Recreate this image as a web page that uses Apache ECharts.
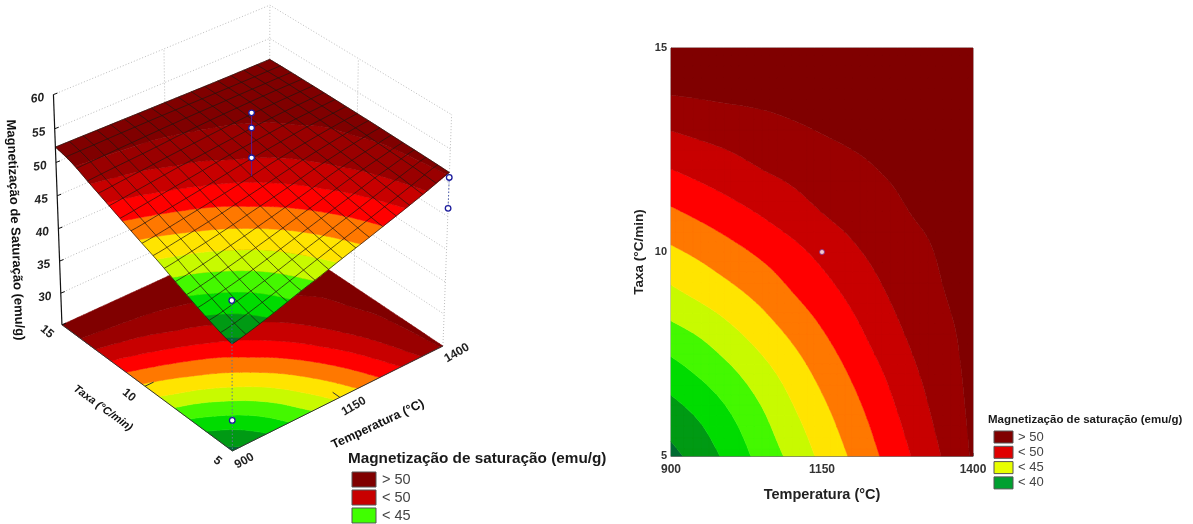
<!DOCTYPE html>
<html>
<head>
<meta charset="utf-8">
<style>html,body{margin:0;padding:0;background:#fff}#c{width:1193px;height:524px;filter:blur(0.4px)}</style>
<script src="https://cdn.jsdelivr.net/npm/echarts@6/dist/echarts.min.js"></script>
</head>
<body>
<div id="c"></div>
<script>
// ---- data ----
const temperatures = [900,950,1000,1050,1100,1150,1200,1250,1300,1350,1400];
const rates = [5,6,7,8,9,10,11,12,13,14,15];
const magRate5  = [41.20,42.00,43.00,44.09,45.08,46.15,47.15,48.20,49.26,50.37,51.54];
const magRate6  = [42.08,42.78,43.68,44.65,45.69,46.67,47.65,48.65,49.68,50.69,51.62];
const magRate7  = [43.18,43.84,44.58,45.44,46.36,47.30,48.22,49.15,50.10,50.92,51.68];
const magRate8  = [44.40,44.94,45.65,46.40,47.19,48.01,48.84,49.73,50.50,51.13,51.73];
const magRate9  = [45.68,46.20,46.74,47.35,48.07,48.75,49.48,50.22,50.83,51.37,51.79];
const magRate10 = [46.80,47.25,47.77,48.30,48.87,49.50,50.12,50.65,51.11,51.51,51.82];
const magRate11 = [47.96,48.40,48.86,49.33,49.84,50.33,50.71,51.08,51.44,51.64,51.84];
const magRate12 = [49.16,49.53,49.90,50.28,50.56,50.85,51.15,51.43,51.62,51.75,51.86];
const magRate13 = [50.34,50.58,50.77,50.98,51.24,51.46,51.62,51.73,51.82,51.86,51.86];
const magRate14 = [51.57,51.64,51.73,51.79,51.84,51.86,51.86,51.86,51.86,51.86,51.86];
const magRate15 = [52.28,52.23,52.17,52.12,52.06,52.01,51.95,51.90,51.86,51.84,51.82];
const magTable = [magRate5,magRate6,magRate7,magRate8,magRate9,magRate10,magRate11,magRate12,magRate13,magRate14,magRate15];
const bandLevels = [41.5,42.6,43.7,44.8,45.9,47.0,48.1,49.2,50.3,51.4];
const bandColors = ['#006a32','#009a14','#00dc00','#44f800','#c8fa00','#ffe400','#ff7800','#ff0000','#c80000','#9a0000','#800000'];
const zTicks = [25,30,35,40,45,50,55,60];
const zTickLabels = ['','30','35','40','45','50','55','60'];
const tempTicks = [900,1150,1400];
const rateTicks = [5,10,15];
const pointT = [1150,1150,1150,1400,1400,900,900];
const pointR = [10,10,10,5,5,5,5];
const pointZ = [58.8,56.6,52.2,50.8,46.2,47.6,29.7];
const legendTitle = 'Magnetização de saturação (emu/g)';
const legendLeftLabels = ['> 50','< 50','< 45'];
const legendLeftColors = ['#800000','#c80000','#40ff00'];
const legendRightLabels = ['> 50','< 50','< 45','< 40'];
const legendRightColors = ['#800000','#e00000','#e8ff00','#00a030'];
const titleZ = 'Magnetização de Saturação (emu/g)';
const titleTemp = 'Temperatura (°C)';
const titleRate = 'Taxa (°C/min)';

// ---- view of the 3D box ----
const AZ = 39.5*Math.PI/180, EL = 33.5*Math.PI/180, DIST = 25, ZH = 1.0;
const zMin = 25, zMax = 60, MESH = 16;
const FONT = '"Liberation Sans", Arial, sans-serif';
function proj(T,r,z){
  const X=(T-1150)/250, Y=(r-10)/5, Z=(z-(zMin+zMax)/2)/((zMax-zMin)/2)*ZH;
  const x1=X*Math.cos(AZ)-Y*Math.sin(AZ), y1=X*Math.sin(AZ)+Y*Math.cos(AZ);
  const up=Z*Math.cos(EL)+y1*Math.sin(EL), d=y1*Math.cos(EL)-Z*Math.sin(EL);
  const f=DIST/(DIST+d);
  return [x1*f, up*f];
}
// ---- smooth rendering grid (Catmull-Rom between table nodes) ----
const SUB=4;
function cr(a,b,c,d,t){return 0.5*((2*b)+(-a+c)*t+(2*a-5*b+4*c-d)*t*t+(-a+3*b-3*c+d)*t*t*t);}
function refine(arr){const o=[];const n=arr.length;for(let i=0;i<n-1;i++){for(let s=0;s<SUB;s++){
  const a=arr[Math.max(i-1,0)],b=arr[i],c=arr[i+1],d=arr[Math.min(i+2,n-1)];o.push(cr(a,b,c,d,s/SUB));}}o.push(arr[n-1]);return o;}
const fineT=refine(temperatures), fineR=refine(rates);
const rowsFine=magTable.map(refine);
const fine=[];
{const cols=rowsFine[0].map((_,j)=>refine(rowsFine.map(r=>r[j])));
 for(let i=0;i<fineR.length;i++){fine.push(cols.map(c=>c[i]));}}
function zAt(T,r){
  const nT=fineT.length-1,nR=fineR.length-1;
  const fj=Math.min((T-fineT[0])/(fineT[nT]-fineT[0])*nT,nT-1e-6), fi=Math.min((r-fineR[0])/(fineR[nR]-fineR[0])*nR,nR-1e-6);
  const j=Math.floor(fj),i=Math.floor(fi),a=fj-j,b=fi-i;
  return (1-b)*((1-a)*fine[i][j]+a*fine[i][j+1])+b*((1-a)*fine[i+1][j]+a*fine[i+1][j+1]);
}
function clip(poly,level,keepAbove){
  const out=[];
  for(let i=0;i<poly.length;i++){
    const p=poly[i],q=poly[(i+1)%poly.length];
    const pi=keepAbove?p[2]>=level:p[2]<level, qi=keepAbove?q[2]>=level:q[2]<level;
    if(pi) out.push(p);
    if(pi!==qi){const t=(level-p[2])/(q[2]-p[2]);out.push([p[0]+t*(q[0]-p[0]),p[1]+t*(q[1]-p[1]),level]);}
  }
  return out;
}
// one path per band: sub-polygons share one fill, so no seams between cells
function bandChildren(toPixel){
  const paths=bandColors.map(()=>[]);
  const box=bandColors.map(()=>[1e9,1e9,-1e9,-1e9]);
  for(let i=0;i<fineR.length-1;i++){for(let j=0;j<fineT.length-1;j++){
    const quad=[[fineT[j],fineR[i],fine[i][j]],[fineT[j+1],fineR[i],fine[i][j+1]],[fineT[j+1],fineR[i+1],fine[i+1][j+1]],[fineT[j],fineR[i+1],fine[i+1][j]]];
    for(let b=0;b<bandColors.length;b++){
      let poly=quad;
      if(b>0) poly=clip(poly,bandLevels[b-1],true);
      if(poly.length&&b<bandLevels.length) poly=clip(poly,bandLevels[b],false);
      if(poly.length>2){
        const pts=poly.map(toPixel);
        pts.forEach((p,k)=>{
          paths[b].push((k?'L':'M')+p[0].toFixed(2)+' '+p[1].toFixed(2));
          box[b][0]=Math.min(box[b][0],p[0]);box[b][1]=Math.min(box[b][1],p[1]);
          box[b][2]=Math.max(box[b][2],p[0]);box[b][3]=Math.max(box[b][3],p[1]);
        });
        paths[b].push('Z');
      }
    }
  }}
  const ch=[];
  bandColors.forEach((c,b)=>{
    if(!paths[b].length) return;
    const B=box[b];
    ch.push({type:'path',silent:true,
      shape:{pathData:paths[b].join(' '),layout:'cover',x:B[0],y:B[1],width:B[2]-B[0],height:B[3]-B[1]},
      style:{fill:c,stroke:c,lineWidth:0.5}});
  });
  return ch;
}
function customOn(index,render){
  return {type:'custom',coordinateSystem:'cartesian2d',xAxisIndex:index,yAxisIndex:index,silent:true,clip:false,animation:false,
    data:[[0,0]],renderItem:function(params,api){return {type:'group',children:render(api)};}};
}
function line(api,pts,style){
  return {type:'polyline',silent:true,shape:{points:pts.map(p=>api.coord(proj(p[0],p[1],p[2])))},style:Object.assign({fill:'none'},style)};
}
function text3d(x,y,rotDeg,str,font,fill){
  return {type:'text',silent:true,x:x,y:y,rotation:rotDeg*Math.PI/180,
    style:{text:str,font:font,fill:fill||'#111',align:'center',verticalAlign:'middle'}};
}
const wallStyle={stroke:'#bdbdbd',lineWidth:1,lineDash:[1,2]};
const Tlo=temperatures[0],Thi=temperatures[10],Tmid=temperatures[5],Rlo=rates[0],Rhi=rates[10],Rmid=rates[5];
const seriesWalls=customOn(0,api=>{
  const ch=[];
  zTicks.forEach(z=>ch.push(line(api,[[Tlo,Rhi,z],[Thi,Rhi,z],[Thi,Rlo,z]],wallStyle)));
  [[Tmid,Rhi],[Thi,Rhi],[Thi,Rmid],[Thi,Rlo]].forEach(p=>ch.push(line(api,[[p[0],p[1],zMin],[p[0],p[1],zMax]],wallStyle)));
  return ch;
});
const seriesFloor=customOn(0,api=>{
  const ch=bandChildren(p=>api.coord(proj(p[0],p[1],zMin)));
  ch.push(line(api,[[Tlo,Rhi,zMin],[Tlo,Rlo,zMin],[Thi,Rlo,zMin]],{stroke:'#333',lineWidth:1}));
  ch.push(line(api,[[Tlo,Rmid,zMin],[Tlo+20,Rmid,zMin]],{stroke:'#333',lineWidth:1}));
  ch.push(line(api,[[Tmid,Rlo,zMin],[Tmid,Rlo+0.4,zMin]],{stroke:'#333',lineWidth:1}));
  return ch;
});
const seriesFrontDrop=customOn(0,api=>[
  line(api,[[Tlo,Rlo,pointZ[5]],[Tlo,Rlo,zMin]],{stroke:'#607a90',lineWidth:1,lineDash:[1.5,2]})
]);
const seriesSurface=customOn(0,api=>bandChildren(p=>api.coord(proj(p[0],p[1],p[2]))));
const seriesMesh=customOn(0,api=>{
  const ch=[],st={stroke:'#201610',lineWidth:0.9,opacity:0.78};
  for(let m=0;m<=MESH;m++){
    const t=Tlo+(Thi-Tlo)*m/MESH, r=Rlo+(Rhi-Rlo)*m/MESH;
    const a=[],b=[];
    for(let s=0;s<=40;s++){
      const rr=Rlo+(Rhi-Rlo)*s/40, tt=Tlo+(Thi-Tlo)*s/40;
      a.push([t,rr,zAt(t,rr)]); b.push([tt,r,zAt(tt,r)]);
    }
    ch.push(line(api,a,st)); ch.push(line(api,b,st));
  }
  return ch;
});
const seriesPoints=customOn(0,api=>{
  const ch=[];
  ch.push(line(api,[[Tmid,Rmid,pointZ[0]],[Tmid,Rmid,magRate10[5]]],{stroke:'#5a1a90',lineWidth:1}));
  ch.push(line(api,[[Thi,Rlo,pointZ[3]],[Thi,Rlo,pointZ[4]]],{stroke:'#5060b0',lineWidth:1,lineDash:[1.5,2]}));
  ch.push(line(api,[[Tlo,Rlo,pointZ[5]],[Tlo,Rlo,magRate5[0]]],{stroke:'#3a6a9a',lineWidth:1,lineDash:[1.5,2]}));
  pointT.forEach((t,i)=>{
    const c=api.coord(proj(t,pointR[i],pointZ[i]));
    ch.push({type:'circle',silent:true,shape:{cx:c[0],cy:c[1],r:2.8},style:{fill:'#fff',stroke:'#1c1c9c',lineWidth:1.3}});
  });
  return ch;
});
const seriesAxes3d=customOn(0,api=>{
  const ch=[];
  const axisStyle={stroke:'#111',lineWidth:1.2};
  ch.push(line(api,[[Tlo,Rhi,zMin],[Tlo,Rhi,zMax]],axisStyle));
  const tf='italic bold 12px '+FONT;
  zTicks.forEach((z,i)=>{
    const c=api.coord(proj(Tlo,Rhi,z));
    ch.push({type:'line',silent:true,shape:{x1:c[0],y1:c[1],x2:c[0]+4,y2:c[1]-1.5},style:{stroke:'#111',lineWidth:1}});
    if(zTickLabels[i]) ch.push(text3d(c[0]-16,c[1]+4,8,zTickLabels[i],tf,'#222'));
  });
  rateTicks.forEach(r=>{
    const c=api.coord(proj(Tlo,r,zMin));
    const off={5:[-15,10],10:[-16,9],15:[-15,7]}[r];
    ch.push(text3d(c[0]+off[0],c[1]+off[1],-40,String(r),'bold 12px '+FONT,'#222'));
  });
  tempTicks.forEach(t=>{
    const c=api.coord(proj(t,Rlo,zMin));
    const off={900:[12,10],1150:[14,9],1400:[14,7]}[t];
    ch.push(text3d(c[0]+off[0],c[1]+off[1],30,String(t),'bold 12px '+FONT,'#222'));
  });
  const mid=api.coord(proj(Tlo,Rmid,zMin));
  ch.push(text3d(mid[0]-42,mid[1]+22,-36,titleRate,'italic bold 11px '+FONT));
  const midT=api.coord(proj(Tmid,Rlo,zMin));
  ch.push(text3d(midT[0]+38,midT[1]+27,25,titleTemp,'bold 12.5px '+FONT));
  ch.push(text3d(15,230,-87.6,titleZ,'bold 13px '+FONT));
  return ch;
});
const seriesContour=customOn(1,api=>bandChildren(p=>api.coord([p[0],p[1]])));
const seriesCenter={type:'scatter',xAxisIndex:1,yAxisIndex:1,symbolSize:5,silent:true,animation:false,z:5,
  itemStyle:{color:'#fff',borderColor:'#7a2a8a',borderWidth:1},data:[[1150,10]]};

function legend(x,y,titleFont,labels,colors,sw,labelFont,labelX,pitch,titleY){
  const out=[{type:'text',silent:true,x:x,y:titleY,style:{text:legendTitle,font:titleFont,fill:'#1a1a1a',verticalAlign:'middle'}}];
  labels.forEach((l,i)=>{
    out.push({type:'rect',silent:true,shape:{x:x+sw[0],y:y+i*pitch,width:sw[1],height:sw[2]},style:{fill:colors[i],stroke:'#555',lineWidth:1}});
    out.push({type:'text',silent:true,x:labelX,y:y+i*pitch+sw[2]/2,style:{text:l,font:labelFont,fill:'#444',verticalAlign:'middle'}});
  });
  return out;
}
const chart=echarts.init(document.getElementById('c'),null,{renderer:'canvas'});
chart.setOption({
  backgroundColor:'#fff',animation:false,
  grid:[
    {left:0,top:0,width:480,height:524,show:false},
    {left:671,top:48,width:302,height:408,show:true,borderColor:'#888',borderWidth:1,backgroundColor:'transparent'}
  ],
  xAxis:[
    {type:'value',gridIndex:0,min:-1.8192,max:1.6515,show:false},
    {type:'value',gridIndex:1,min:900,max:1400,interval:250,name:titleTemp,nameLocation:'middle',nameGap:31,
     nameTextStyle:{fontWeight:'bold',fontSize:14.5,color:'#222',fontFamily:FONT},
     axisLine:{show:true,lineStyle:{color:'#777'}},axisTick:{show:true,inside:true,length:3,lineStyle:{color:'#777'}},
     axisLabel:{fontWeight:'bold',fontSize:12,color:'#333',fontFamily:FONT,margin:8,formatter:v=>String(v)},splitLine:{show:false}}
  ],
  yAxis:[
    {type:'value',gridIndex:0,min:-2.18,max:1.6088,show:false},
    {type:'value',gridIndex:1,min:5,max:15,interval:5,name:titleRate,nameLocation:'middle',nameGap:25,nameRotate:90,
     nameTextStyle:{fontWeight:'bold',fontSize:13.5,color:'#222',fontFamily:FONT},
     axisLine:{show:true,lineStyle:{color:'#777'}},axisTick:{show:false},
     axisLabel:{fontWeight:'bold',fontSize:11,color:'#333',fontFamily:FONT,margin:4},splitLine:{show:false}}
  ],
  series:[seriesWalls,seriesFloor,seriesFrontDrop,seriesSurface,seriesMesh,seriesPoints,seriesAxes3d,seriesContour,seriesCenter],
  graphic:{elements:[].concat(
    legend(348,472,'bold 15.3px '+FONT,legendLeftLabels,legendLeftColors,[4,24,15],'14.5px '+FONT,382,18,459),
    legend(988,431,'bold 11.5px '+FONT,legendRightLabels,legendRightColors,[6,19,12],'13px '+FONT,1018,15.3,420)
  )}
});
</script>
</body>
</html>
